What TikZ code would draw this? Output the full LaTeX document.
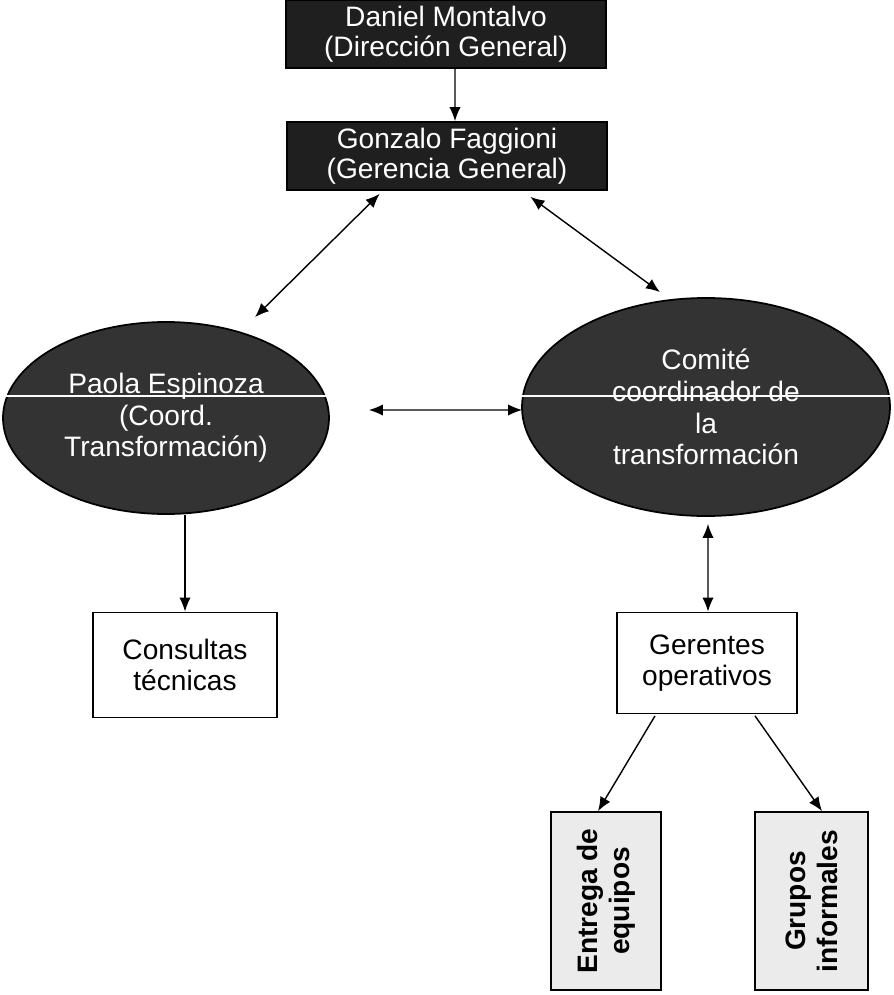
\documentclass[tikz,border=0pt]{standalone}
\usepackage{fontspec}
\setmainfont{Liberation Sans}
\usetikzlibrary{shapes.geometric,calc,arrows.meta}
\tikzstyle{dark}=[rectangle,draw=black,fill=black!88,text=white,line width=1pt,minimum width=6.4cm,minimum height=1.36cm,align=center,inner sep=0pt,font=\fontsize{16}{17}\selectfont]
\tikzstyle{oval}=[ellipse,draw=black,fill=black!80,text=white,line width=1pt,align=center,inner sep=0pt,font=\fontsize{16}{18}\selectfont]
\tikzstyle{plain}=[rectangle,draw=black,fill=white,line width=1pt,minimum width=3.64cm,minimum height=2.06cm,align=center,inner sep=0pt,font=\fontsize{16}{18}\selectfont]
\tikzstyle{tall}=[rectangle,draw=black,fill=black!8,line width=1pt,rotate=90,minimum width=3.56cm,minimum height=2.22cm,align=center,inner sep=0pt,font=\fontsize{16}{18}\selectfont\bfseries]
\tikzstyle{link}=[line width=0.8pt,>={Latex[length=8pt,width=6.5pt]}]

\begin{document}
\begin{tikzpicture}
			\useasboundingbox (0,0) rectangle (17.88,-19.9);
			
			\node (daniel) at (8.92,-0.68) [dark] {Daniel Montalvo\\(Dirección General)};
			\node (gonzalo) at (8.94,-3.12) [dark] {Gonzalo Faggioni\\(Gerencia General)};
			\node (paola) at (3.32,-8.36) [oval,minimum width=6.52cm,minimum height=3.84cm] {Paola Espinoza\\(Coord.\\Transformación)};
			\node (comite) at (14.12,-8.14) [oval,minimum width=7.36cm,minimum height=4.36cm] {Comité\\coordinador de\\la\\transformación};
			\node (consultas) at (3.70,-13.30) [plain,minimum width=3.68cm,minimum height=2.10cm] {Consultas\\técnicas};
			\node (gerentes) at (14.14,-13.26) [plain,minimum width=3.60cm,minimum height=2.02cm] {Gerentes\\operativos};
			\node (entrega) at (12.12,-18.02) [tall,minimum height=2.20cm] {Entrega de\\equipos};
			\node (grupos) at (16.23,-18.02) [tall,minimum height=2.26cm] {Grupos\\informales};
			
			% white line across the ovals
			\draw [white,line width=1pt] (0.05,-7.92) -- (17.85,-7.92);
			
			\draw [link,->] ($(daniel.south)+(0.18,0)$) -- ($(gonzalo.north)+(0.16,0)$);
			\draw [link,<->] ($(gonzalo.south west)+(1.87,-0.06)$) -- ($(paola.north)+(1.78,0.08)$);
			\draw [link,<->] ($(gonzalo.south east)+(-1.55,-0.12)$) -- ($(comite.north)+(-0.92,0.10)$);
			\draw [link,<->] ($(paola.east)+(0.78,0.16)$) -- ($(comite.west)+(0.02,-0.06)$);
			\draw [link,->] (consultas.north |- paola.south) -- (consultas.north);
			\draw [link,<->] ($(comite.south)+(0.04,-0.14)$) -- ($(gerentes.north)+(0.02,0)$);
			\draw [link,->] ($(gerentes.south)+(-1.04,-0.03)$) -- ($(entrega.east)+(-0.16,0)$);
			\draw [link,->] ($(gerentes.south)+(0.96,-0.03)$) -- ($(grupos.east)+(0.21,0)$);
		\end{tikzpicture}
\end{document}
